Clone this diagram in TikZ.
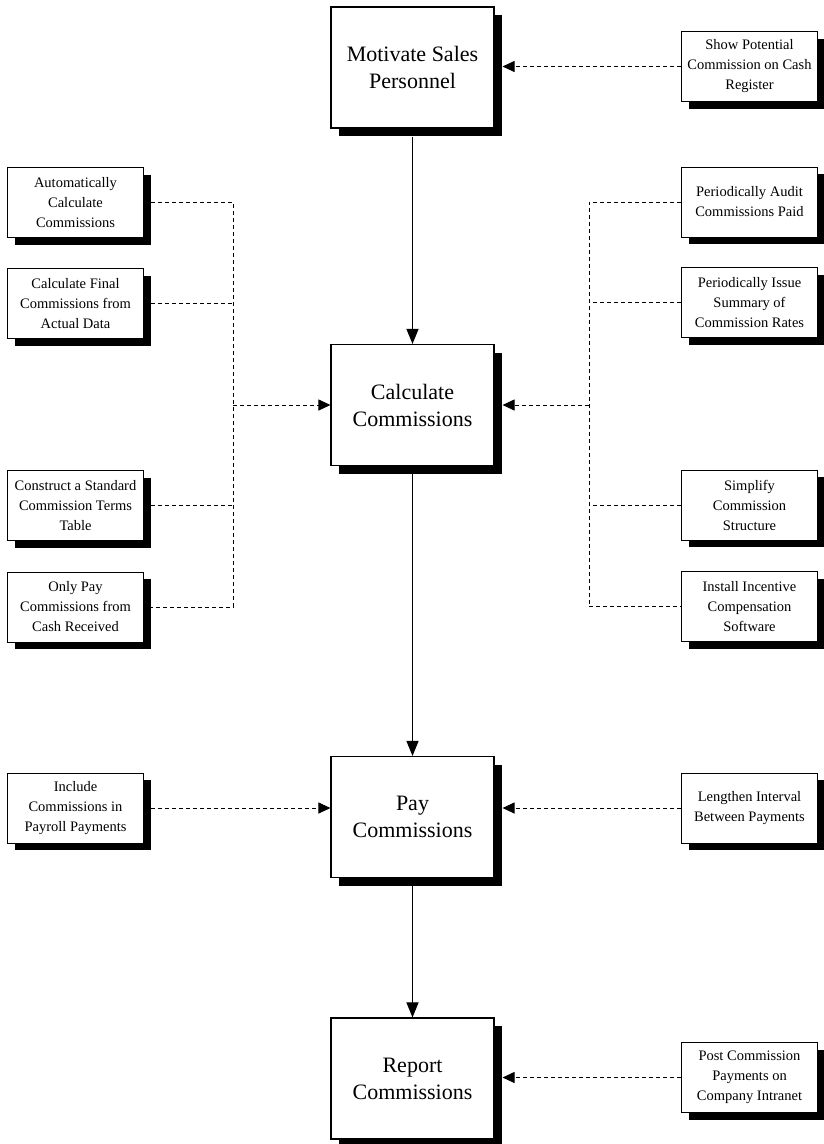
\documentclass[tikz,border=0pt]{standalone}
\usepackage{fontspec}
\setmainfont{Liberation Serif}
\usetikzlibrary{arrows.meta}
\begin{document}
\begin{tikzpicture}[x=1pt,y=-1pt,
  mainbox/.style={draw=black,line width=1.1pt,fill=white,minimum width=163pt,minimum height=121pt,
    align=center,inner sep=0pt,font=\fontsize{22}{27}\selectfont},
  smallbox/.style={draw=black,line width=0.9pt,fill=white,minimum width=136pt,minimum height=70pt,
    align=center,inner sep=0pt,font=\fontsize{14.5}{20}\selectfont},
  dline/.style={draw=black,line width=1pt,dash pattern=on 4pt off 3pt},
  solidarrow/.style={draw=black,line width=1pt,-{Triangle[length=15pt,width=12pt]}},
  dasharrow/.style={draw=black,line width=1pt,dash pattern=on 4pt off 3pt,-{Triangle[length=12pt,width=11pt]}}]
\useasboundingbox (0,0) rectangle (823,1144);
\fill[white] (0,0) rectangle (823,1144);

% main boxes with shadows
\newcommand{\mainnode}[4]{%
  \fill[black] (#2+8,#3+8) ++(-81.5,-60.5) rectangle ++(163,121);
  \node[mainbox] (#1) at (#2,#3) {#4};}
\newcommand{\smallnode}[4]{%
  \fill[black] (#2+7,#3+7) ++(-68,-35) rectangle ++(136,70);
  \node[smallbox] (#1) at (#2,#3) {#4};}

\mainnode{mot}{412.5}{67.5}{Motivate Sales\\Personnel}
\mainnode{calc}{412.5}{405}{Calculate\\Commissions}
\mainnode{pay}{412.5}{817}{Pay\\Commissions}
\mainnode{rep}{412.5}{1078.5}{Report\\Commissions}

% left boxes
\smallnode{la}{75.5}{202.5}{Automatically\\Calculate\\Commissions}
\smallnode{lb}{75.5}{303.5}{Calculate Final\\Commissions from\\Actual Data}
\smallnode{lc}{75.5}{505.5}{Construct a Standard\\Commission Terms\\Table}
\smallnode{ld}{75.5}{607}{Only Pay\\Commissions from\\Cash Received}
\smallnode{le}{75.5}{808}{Include\\Commissions in\\Payroll Payments}

% right boxes
\smallnode{rs}{749.5}{66.5}{Show Potential\\Commission on Cash\\Register}
\smallnode{ra}{749.5}{202}{Periodically Audit\\Commissions Paid}
\smallnode{rb}{749.5}{302.5}{Periodically Issue\\Summary of\\Commission Rates}
\smallnode{rc}{749.5}{505}{Simplify\\Commission\\Structure}
\smallnode{rd}{749.5}{606.5}{Install Incentive\\Compensation\\Software}
\smallnode{re}{749.5}{808}{Lengthen Interval\\Between Payments}
\smallnode{rf}{749.5}{1077.5}{Post Commission\\Payments on\\Company Intranet}

% main flow
\draw[solidarrow] ([yshift=-8pt]mot.south) -- (calc.north);
\draw[solidarrow] ([yshift=-8pt]calc.south) -- (pay.north);
\draw[solidarrow] ([yshift=-8pt]pay.south) -- (rep.north);

% left bus
\coordinate (lbusT) at (233,202.5);
\coordinate (lbusB) at (233,607);
\coordinate (lbusM) at (233,405);
\draw[dline] ([xshift=7pt]la.east) -- (lbusT) -- (lbusB) -- ([xshift=7pt]ld.east);
\draw[dline] ([xshift=7pt]lb.east) -- (lbusT |- lb.east);
\draw[dline] ([xshift=7pt]lc.east) -- (lbusT |- lc.east);
\draw[dasharrow] (lbusM) -- (calc.west);

% right bus
\coordinate (rbusT) at (589,202);
\coordinate (rbusB) at (589,606.5);
\coordinate (rbusM) at (589,405);
\draw[dline] (ra.west) -- (rbusT) -- (rbusB) -- (rd.west);
\draw[dline] (rb.west) -- (rbusT |- rb.west);
\draw[dline] (rc.west) -- (rbusT |- rc.west);
\draw[dasharrow] (rbusM) -- ([xshift=8pt]calc.east);

% single links
\draw[dasharrow] (rs.west) -- ([xshift=8pt]mot.east |- rs.west);
\draw[dasharrow] ([xshift=7pt]le.east) -- (pay.west |- le.east);
\draw[dasharrow] (re.west) -- ([xshift=8pt]pay.east |- re.west);
\draw[dasharrow] (rf.west) -- ([xshift=8pt]rep.east |- rf.west);
\end{tikzpicture}
\end{document}
